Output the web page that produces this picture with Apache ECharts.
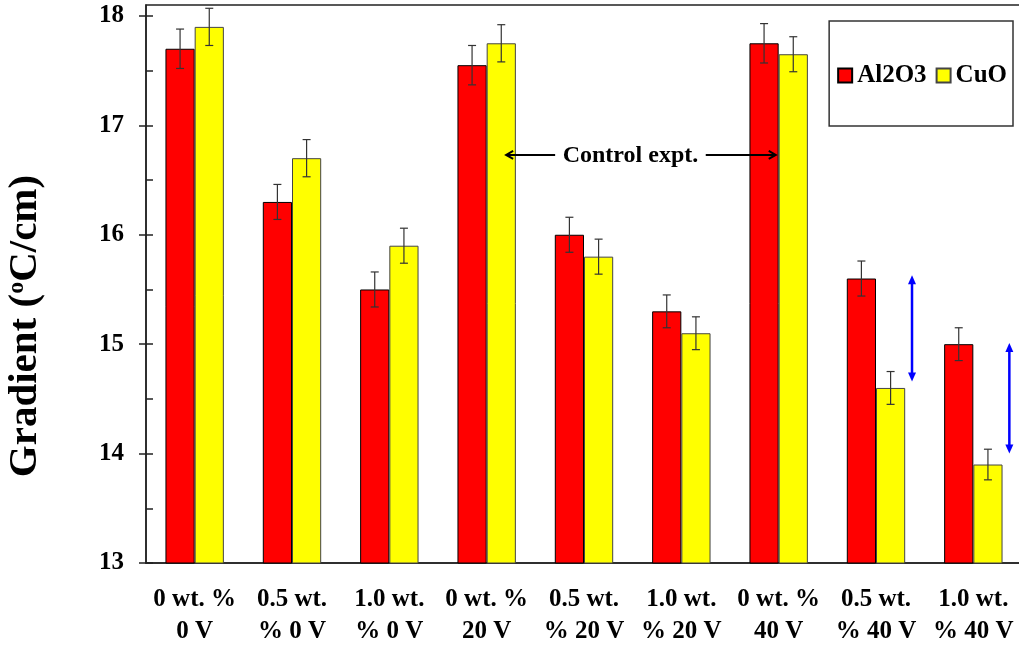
<!DOCTYPE html>
<html>
<head>
<meta charset="utf-8">
<script src="https://cdn.jsdelivr.net/npm/echarts@6/dist/echarts.min.js"></script>
<style>
  html, body { margin: 0; padding: 0; background: #fff; }
  #main { width: 1019px; height: 645px; }
</style>
</head>
<body>
<div id="main"></div>
<script>
// gradient per sample
var categories = ['0 wt. %\n0 V', '0.5 wt.\n% 0 V', '1.0 wt.\n% 0 V',
  '0 wt. %\n20 V', '0.5 wt.\n% 20 V', '1.0 wt.\n% 20 V',
  '0 wt. %\n40 V', '0.5 wt.\n% 40 V', '1.0 wt.\n% 40 V']
var al2o3 = [17.7, 16.3, 15.5, 17.55, 16.0, 15.3, 17.75, 15.6, 15.0]
var cuo = [17.9, 16.7, 15.9, 17.75, 15.8, 15.1, 17.65, 14.6, 13.9]
var al2o3Err = [0.18, 0.16, 0.16, 0.18, 0.16, 0.15, 0.18, 0.16, 0.15]
var cuoErr = [0.17, 0.17, 0.16, 0.17, 0.16, 0.15, 0.16, 0.15, 0.14]
var yTicks = [13, 14, 15, 16, 17, 18]
var yTicksHalf = [13, 13.5, 14, 14.5, 15, 15.5, 16, 16.5, 17, 17.5, 18]
// blue arrows: [category index, top, bottom]
var diffArrows = [[7, 15.63, 14.66], [8, 15.01, 14.0]]
// "Control expt." note: [from category, to category, value]
var controlNote = [[3, 6, 16.73]]

var FONT = 'Liberation Serif'
var chart = echarts.init(document.getElementById('main'), null, { renderer: 'canvas' })

function errData(vals, errs) {
  return vals.map(function (v, i) { return [i, v - errs[i], v + errs[i]] })
}

function errorBars(side) {
  return function (params, api) {
    var i = api.value(0)
    var lo = api.coord([i, api.value(1)])
    var hi = api.coord([i, api.value(2)])
    var band = api.size([1, 0])[0]
    var x = lo[0] + side * band * 0.15
    var cap = 4
    var st = { stroke: '#333', lineWidth: 1.2 }
    return {
      type: 'group',
      children: [
        { type: 'line', shape: { x1: x, y1: lo[1], x2: x, y2: hi[1] }, style: st },
        { type: 'line', shape: { x1: x - cap, y1: lo[1], x2: x + cap, y2: lo[1] }, style: st },
        { type: 'line', shape: { x1: x - cap, y1: hi[1], x2: x + cap, y2: hi[1] }, style: st }
      ]
    }
  }
}

function blueArrow(params, api) {
  var i = api.value(0)
  var top = api.coord([i, api.value(1)])
  var bot = api.coord([i, api.value(2)])
  var band = api.size([1, 0])[0]
  var x = top[0] + band * 0.37
  var h = 9, w = 4
  var fill = { fill: '#0000ff' }
  return {
    type: 'group',
    children: [
      { type: 'line', shape: { x1: x, y1: top[1] + h - 1, x2: x, y2: bot[1] - h + 1 },
        style: { stroke: '#0000ff', lineWidth: 2.5 } },
      { type: 'polygon', shape: { points: [[x, top[1]], [x - w, top[1] + h], [x + w, top[1] + h]] }, style: fill },
      { type: 'polygon', shape: { points: [[x, bot[1]], [x - w, bot[1] - h], [x + w, bot[1] - h]] }, style: fill }
    ]
  }
}

function noteArrows(params, api) {
  var a = api.coord([api.value(0), api.value(2)])
  var b = api.coord([api.value(1), api.value(2)])
  var band = api.size([1, 0])[0]
  var l = a[0] + band * 0.2
  var r = b[0] - band * 0.03
  var y = a[1]
  var st = { stroke: '#000', lineWidth: 2, fill: null }
  var mid = (l + 49 + r - 70) / 2
  return {
    type: 'group',
    children: [
      { type: 'line', shape: { x1: l, y1: y, x2: l + 49, y2: y }, style: st },
      { type: 'polyline', shape: { points: [[l + 7, y - 4], [l, y], [l + 7, y + 4]] }, style: st },
      { type: 'line', shape: { x1: r - 70, y1: y, x2: r, y2: y }, style: st },
      { type: 'polyline', shape: { points: [[r - 7, y - 4], [r, y], [r - 7, y + 4]] }, style: st },
      { type: 'text', x: mid, y: y + 1,
        style: { text: 'Control expt.', fontFamily: FONT, fontWeight: 'bold', fontSize: 24,
          fill: '#000', align: 'center', verticalAlign: 'middle' } }
    ]
  }
}

var labelStyle = { fontFamily: FONT, fontWeight: 'bold', color: '#000' }

var option = {
  animation: false,
  backgroundColor: '#fff',
  grid: {
    left: 146, top: 5, right: -3, bottom: 82, outerBoundsMode: 'none', containLabel: false,
    show: true, borderColor: '#222', borderWidth: 1.5
  },
  legend: {
    data: ['Al2O3', 'CuO'],
    right: 6, top: 21,
    padding: [42, 6, 38, 8],
    icon: 'rect',
    itemWidth: 14, itemHeight: 14, itemGap: 9,
    borderColor: '#333', borderWidth: 1.5,
    textStyle: { fontFamily: FONT, fontWeight: 'bold', fontSize: 25, color: '#000' }
  },
  xAxis: [
    {
      type: 'category', data: categories,
      axisLine: { lineStyle: { color: '#222', width: 1.5 } },
      axisTick: { alignWithLabel: true, length: 6, lineStyle: { color: '#222', width: 1.5 } },
      axisLabel: Object.assign({ fontSize: 25, lineHeight: 32, margin: 21, interval: 0 }, labelStyle)
    },
    {
      type: 'category', data: categories, position: 'bottom',
      axisLine: { show: false },
      axisTick: { alignWithLabel: true, inside: true, length: 6, lineStyle: { color: '#222', width: 1.5 } },
      axisLabel: { show: false }
    }
  ],
  yAxis: [
    {
      type: 'value', min: 13, max: 18.1,
      name: 'Gradient ({sup|o}C/cm)',
      nameLocation: 'middle', nameRotate: 90, nameGap: 100,
      nameTextStyle: {
        fontFamily: FONT, fontWeight: 'bold', fontSize: 41, color: '#000',
        padding: [0, 84, 0, 0],
        rich: { sup: { fontFamily: FONT, fontWeight: 'bold', fontSize: 24, verticalAlign: 'top', padding: [0, 0, 14, 0] } }
      },
      splitLine: { show: false },
      axisLine: { show: true, lineStyle: { color: '#222', width: 1.5 } },
      axisTick: { show: true, length: 7, customValues: yTicks, lineStyle: { color: '#222', width: 1.5 } },
      axisLabel: Object.assign({ fontSize: 25, margin: 22, customValues: yTicks }, labelStyle)
    },
    {
      type: 'value', min: 13, max: 18.1, position: 'left',
      splitLine: { show: false },
      axisLine: { show: false },
      axisTick: { show: true, inside: true, length: 7, customValues: yTicksHalf, lineStyle: { color: '#222', width: 1.5 } },
      axisLabel: { show: false }
    }
  ],
  series: [
    {
      name: 'Al2O3', type: 'bar', data: al2o3,
      barGap: '0%', barCategoryGap: '40%',
      itemStyle: { color: '#ff0000', borderColor: '#000', borderWidth: 1 }
    },
    {
      name: 'CuO', type: 'bar', data: cuo,
      barGap: '0%', barCategoryGap: '40%',
      itemStyle: { color: '#ffff00', borderColor: '#444', borderWidth: 1 }
    },
    {
      type: 'custom', z: 5, renderItem: errorBars(-1),
      data: errData(al2o3, al2o3Err), encode: { x: 0, y: [1, 2] }, silent: true
    },
    {
      type: 'custom', z: 5, renderItem: errorBars(1),
      data: errData(cuo, cuoErr), encode: { x: 0, y: [1, 2] }, silent: true
    },
    {
      type: 'custom', z: 5, renderItem: blueArrow,
      data: diffArrows, encode: { x: 0, y: [1, 2] }, silent: true
    },
    {
      type: 'custom', z: 6, renderItem: noteArrows,
      data: controlNote, encode: { y: 2 }, silent: true
    }
  ]
}

chart.setOption(option)
</script>
</body>
</html>
